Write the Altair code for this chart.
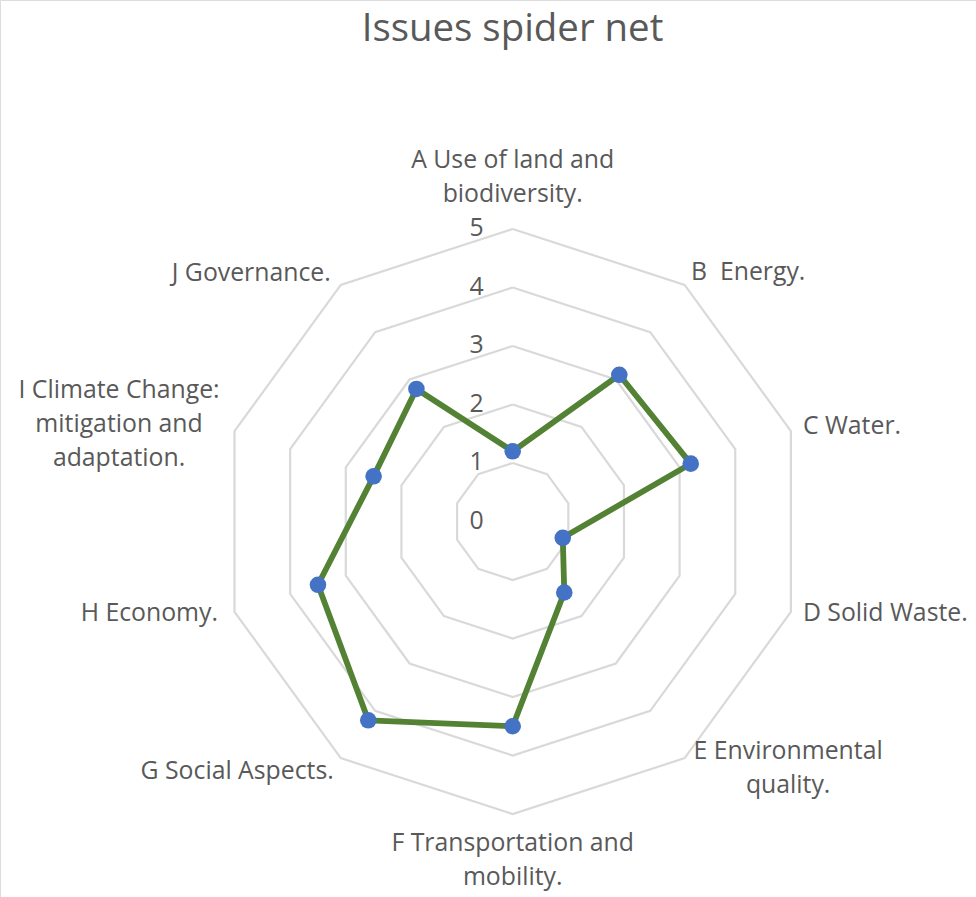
import altair as alt
import pandas as pd

# ---------------- data ----------------
categories = [
    "A Use of land and\nbiodiversity.",
    "B \u00a0Energy.",
    "C Water.",
    "D Solid Waste.",
    "E Environmental\nquality.",
    "F Transportation and\nmobility.",
    "G Social Aspects.",
    "H Economy.",
    "I Climate Change:\nmitigation and\nadaptation.",
    "J Governance.",
]
values = [1.2, 3.1, 3.2, 0.9, 1.5, 3.5, 4.2, 3.5, 2.5, 2.8]
ring_levels = [1, 2, 3, 4, 5]
tick_values = [0, 1, 2, 3, 4, 5]
tick_labels = ["0", "1", "2", "3", "4", "5"]
title_text = "Issues spider net"

# ---------------- layout / style ----------------
W, H = 976, 897
UNIT = 58.5          # pixels per value unit
CX, CY = 512.7, 521.5
N = len(categories)
RMAX = max(ring_levels)
# first-line anchor offsets (pixels) from the outer-ring vertex of each axis
label_dx = [0, 6.4, 12, 12, 103.5, 0, -7, -16.5, -115.5, -10]
label_dy = [-68, -12, -4.6, 2, -6, 30, 14, 2, -40, -10.4]
label_align = ["center", "left", "left", "left", "center", "center",
               "right", "right", "center", "right"]

FONT = "Open Sans"
TXT = "#595959"
GRID = "#d9d9d9"
LINE = "#548235"
MARK = "#4472c4"

xs = alt.Scale(domain=[-CX / UNIT, (W - CX) / UNIT], nice=False, zero=False)
ys = alt.Scale(domain=[-(H - CY) / UNIT, CY / UNIT], nice=False, zero=False)

ANG = f"2*PI*datum.k/{N}"

# grid rings
grid_rows = [{"ring": r, "k": k} for r in ring_levels for k in range(N + 1)]
grid = (
    alt.Chart(pd.DataFrame(grid_rows))
    .transform_calculate(gx=f"datum.ring*sin({ANG})", gy=f"datum.ring*cos({ANG})")
    .mark_line(color=GRID, strokeWidth=2.2)
    .encode(
        x=alt.X("gx:Q", scale=xs, axis=None),
        y=alt.Y("gy:Q", scale=ys, axis=None),
        detail="ring:N",
        order="k:Q",
    )
)

# series
ser_rows = [{"k": k, "v": values[k % N]} for k in range(N + 1)]
ser_df = pd.DataFrame(ser_rows)
series_base = alt.Chart(ser_df).transform_calculate(
    sx=f"datum.v*sin({ANG})", sy=f"datum.v*cos({ANG})"
)
series_line = series_base.mark_line(color=LINE, strokeWidth=5.8, strokeJoin="round").encode(
    x=alt.X("sx:Q", scale=xs, axis=None),
    y=alt.Y("sy:Q", scale=ys, axis=None),
    order="k:Q",
)
series_pts = series_base.transform_filter(f"datum.k < {N}").mark_circle(
    color=MARK, size=275, opacity=1
).encode(
    x=alt.X("sx:Q", scale=xs, axis=None),
    y=alt.Y("sy:Q", scale=ys, axis=None),
)

# category labels
lab_df = pd.DataFrame({
    "k": list(range(N)),
    "label": categories,
    "dx": label_dx,
    "dy": label_dy,
    "al": label_align,
})
lab_base = alt.Chart(lab_df).transform_calculate(
    lx=f"{RMAX}*sin({ANG}) + datum.dx/{UNIT}",
    ly=f"{RMAX}*cos({ANG}) - datum.dy/{UNIT}",
)
label_layers = []
for al in ["left", "center", "right"]:
    label_layers.append(
        lab_base.transform_filter(f"datum.al == '{al}'")
        .mark_text(align=al, baseline="middle", font=FONT, fontSize=24.8,
                   color=TXT, lineBreak="\n", lineHeight=34)
        .encode(
            x=alt.X("lx:Q", scale=xs, axis=None),
            y=alt.Y("ly:Q", scale=ys, axis=None),
            text="label:N",
        )
    )

# radial tick labels
tick_df = pd.DataFrame({"v": tick_values, "t": tick_labels})
ticks = (
    alt.Chart(tick_df)
    .transform_calculate(tx="0")
    .mark_text(align="right", baseline="middle", dx=-29, font=FONT, fontSize=24.8, color=TXT)
    .encode(
        x=alt.X("tx:Q", scale=xs, axis=None),
        y=alt.Y("v:Q", scale=ys, axis=None),
        text="t:N",
    )
)

title = (
    alt.Chart(pd.DataFrame({"t": [title_text]}))
    .mark_text(align="center", baseline="middle", font=FONT, fontSize=38.4, color=TXT)
    .encode(x=alt.value(512.5), y=alt.value(29), text="t:N")
)

chart = (
    alt.layer(grid, series_line, series_pts, *label_layers, ticks, title)
    .properties(width=W, height=H, autosize=alt.AutoSizeParams(type="none"), padding=0)
    .configure_view(stroke=None)
    .configure(background="white")
)

chart.save("out.html", embed_options={"renderer": "svg", "actions": False})
